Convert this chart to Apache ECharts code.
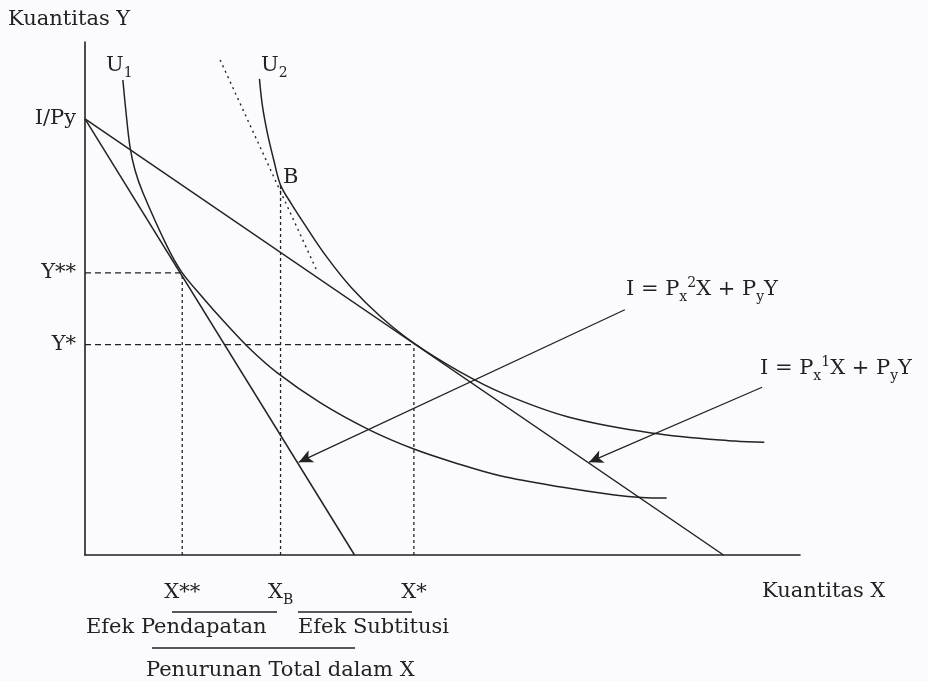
<!DOCTYPE html>
<html>
<head>
<meta charset="utf-8">
<script src="https://cdn.jsdelivr.net/npm/echarts@6/dist/echarts.min.js"></script>
<style>
html,body{margin:0;padding:0;background:#fbfbfd;}
#main{width:928px;height:681px;}
</style>
</head>
<body>
<div id="main"></div>
<script>
// ---- data (chart units: x 0..100, y 0..100) ----
const incomeOverPy = 85;            // I/Py intercept
const budget1 = [[0, 85], [37.7, 0]];   // I = Px2 X + Py Y (steeper)
const budget2 = [[0, 85], [89.3, 0]];   // I = Px1 X + Py Y (flatter)
const u1Curve = [
  [5.3, 92.6], [5.7, 86.8], [6.3, 79.5], [7.0, 75.0], [8.1, 70.6],
  [11.5, 60.1], [13.5, 55.2], [16.4, 50.3], [19.5, 45.4], [22.9, 40.4],
  [26.9, 35.5], [33.0, 29.6], [39.55, 24.55], [46.0, 20.65], [51.9, 17.9],
  [58.2, 15.4], [66.6, 13.25], [74.05, 11.7], [77.85, 11.2], [81.35, 11.1]
];
const u2Curve = [
  [24.4, 92.8], [24.8, 87.7], [25.5, 82.3], [26.4, 77.0], [27.35, 72.1],
  [28.8, 68.6], [30.6, 64.7], [33.7, 58.3], [37.2, 52.2], [41.4, 46.4],
  [46.0, 41.3], [52.2, 35.9], [58.6, 31.4], [67.6, 26.9], [79.2, 23.8],
  [90.9, 22.2], [95.0, 22.0]
];
const compensatedLine = [[18.9, 96.5], [32.5, 55.2]];
const xDoubleStar = 13.6, yDoubleStar = 55.0;
const xStar = 46.0, yStar = 41.0;
const xB = 27.35, yB = 72.1;
const arrow1 = [[75.5, 47.8], [29.9, 18.1]];
const arrow2 = [[94.7, 32.7], [70.5, 18.1]];
const xTickValues = [xDoubleStar, xB, xStar];
const xTickLabels = ['X**', 'X_B', 'X*'];
const yTickValues = [incomeOverPy, yDoubleStar, yStar];
const yTickLabels = ['I/Py', 'Y**', 'Y*'];

const FONT = 'DejaVu Serif';
const INK = '#222222';
const richBase = {
  m: {fontFamily: FONT, fontSize: 21, fill: INK, color: INK, lineHeight: 28, verticalAlign: 'middle'},
  s: {fontFamily: FONT, fontSize: 14, fill: INK, color: INK, lineHeight: 17, verticalAlign: 'bottom'},
  p: {fontFamily: FONT, fontSize: 14, fill: INK, color: INK, lineHeight: 13, verticalAlign: 'top'}
};
function toRich(t) {
  let out = '';
  const re = /(_[A-Za-z0-9])|(\^[A-Za-z0-9])|([^_^]+)/g;
  let m;
  while ((m = re.exec(t)) !== null) {
    if (m[1]) out += '{s|' + m[1].slice(1) + '}';
    else if (m[2]) out += '{p|' + m[2].slice(1) + '}';
    else out += '{m|' + m[3] + '}';
  }
  return out;
}

const chart = echarts.init(document.getElementById('main'), null, {renderer: 'canvas'});
const lineStyle = {color: INK, width: 1.5};
function plain(name, data, extra) {
  return Object.assign({
    name, type: 'line', data, symbol: 'none', silent: true,
    lineStyle: Object.assign({}, lineStyle), z: 3
  }, extra || {});
}
const dashedH = {color: INK, width: 1.3, type: [6, 4]};
const dottedV = {color: INK, width: 1.3, type: [3, 3]};

function txt(x, y, t) {
  return {
    type: 'text', x, y, silent: true,
    style: {text: toRich(t), rich: richBase, verticalAlign: 'middle', align: 'left'}
  };
}
function uline(x1, x2, y) {
  return {type: 'line', silent: true, shape: {x1, y1: y, x2, y2: y}, style: {stroke: INK, lineWidth: 1.4}};
}

const option = {
  backgroundColor: '#fbfbfd',
  animation: false,
  grid: {left: 85, right: 128, top: 42, bottom: 126},
  xAxis: {
    type: 'value', min: 0, max: 100,
    axisLine: {show: true, onZero: false, lineStyle: {color: INK, width: 1.6}},
    axisTick: {show: false}, splitLine: {show: false},
    axisLabel: {
      customValues: xTickValues, margin: 24,
      formatter: v => toRich(xTickLabels[xTickValues.indexOf(v)] || ''),
      rich: richBase
    }
  },
  yAxis: {
    type: 'value', min: 0, max: 100,
    axisLine: {show: true, onZero: false, lineStyle: {color: INK, width: 1.6}},
    axisTick: {show: false}, splitLine: {show: false},
    axisLabel: {
      customValues: yTickValues, margin: 9,
      formatter: v => toRich(yTickLabels[yTickValues.indexOf(v)] || ''),
      rich: richBase
    }
  },
  series: [
    plain('budget1', budget1, {
      markLine: {
        silent: true, animation: false,
        label: {show: false},
        lineStyle: {color: INK, width: 1.3, type: 'solid'},
        symbol: ['none', 'arrow'], symbolSize: [10, 14],
        data: [
          [{coord: arrow1[0]}, {coord: arrow1[1]}],
          [{coord: arrow2[0]}, {coord: arrow2[1]}]
        ]
      }
    }),
    plain('budget2', budget2),
    plain('U1', u1Curve, {smooth: 0.35}),
    plain('U2', u2Curve, {smooth: 0.35}),
    plain('compensated', compensatedLine, {lineStyle: {color: INK, width: 1.4, type: [2, 4]}}),
    plain('yss', [[0, yDoubleStar], [xDoubleStar, yDoubleStar]], {lineStyle: dashedH}),
    plain('ys', [[0, yStar], [xStar, yStar]], {lineStyle: dashedH}),
    plain('xss', [[xDoubleStar, 0], [xDoubleStar, yDoubleStar]], {lineStyle: dottedV}),
    plain('xb', [[xB, 0], [xB, yB]], {lineStyle: dottedV}),
    plain('xs', [[xStar, 0], [xStar, yStar]], {lineStyle: dottedV})
  ],
  graphic: [
    txt(8, 20, 'Kuantitas Y'),
    txt(762, 592, 'Kuantitas X'),
    txt(106, 66, 'U_1'),
    txt(261, 66, 'U_2'),
    txt(283, 178, 'B'),
    txt(626, 290, 'I = P_x^2X + P_yY'),
    txt(760, 369, 'I = P_x^1X + P_yY'),
    txt(86, 628, 'Efek Pendapatan'),
    txt(298, 628, 'Efek Subtitusi'),
    txt(146, 671, 'Penurunan Total dalam X'),
    uline(172, 277, 612),
    uline(298, 412, 612),
    uline(152, 355, 648)
  ]
};
chart.setOption(option);
</script>
</body>
</html>
